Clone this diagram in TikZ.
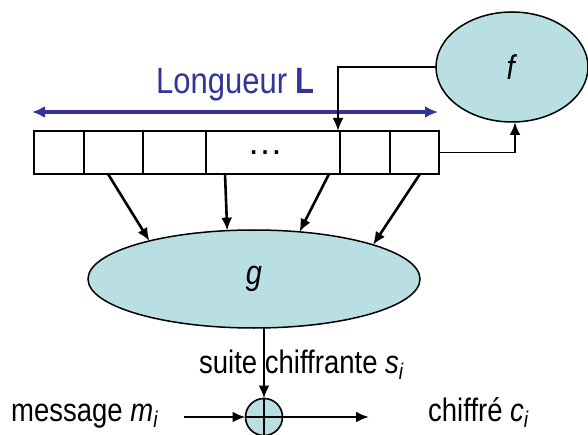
\documentclass[tikz,border=0pt]{standalone}
\usepackage{graphicx}
\usepackage{fontspec}
\setmainfont{Liberation Sans}
\usetikzlibrary{arrows.meta,shapes.geometric}
\definecolor{cyanfill}{HTML}{B9DFE2}
\definecolor{darkblue}{HTML}{333399}
\newcommand{\vstretch}[1]{\scalebox{1}[1.18]{#1}}
\tikzset{
  cell/.style={draw=black, line width=1.8pt, minimum height=43pt, inner sep=0pt, outer sep=0pt, anchor=west},
  blob/.style={ellipse, draw=black, line width=1.5pt, fill=cyanfill, inner sep=0pt, outer sep=0pt},
  arr/.style={line width=2.6pt, -{Latex[length=13pt,width=11pt]}},
  thin/.style={line width=1.8pt},
  lbl/.style={inner sep=0pt, font=\fontsize{27.5}{32}\selectfont}
}
\begin{document}
\begin{tikzpicture}[x=1pt,y=-1pt]
\useasboundingbox (0,0) rectangle (588,435);
% register
\node[cell, minimum width=50pt] (c1) at (34,152.5) {};
\node[cell, minimum width=59pt] (c2) at (c1.east) {};
\node[cell, minimum width=63pt] (c3) at (c2.east) {};
\node[cell, minimum width=134pt, font=\fontsize{36}{40}\selectfont] (c4) at (c3.east) {\hspace*{-16pt}\raisebox{-3pt}{…}};
\node[cell, minimum width=50pt] (c5) at (c4.east) {};
\node[cell, minimum width=49pt] (c6) at (c5.east) {};
% length arrow
\coordinate (la) at (32,112);
\coordinate (lb) at (438,112);
\draw[darkblue, line width=3.2pt, {Latex[length=13pt,width=12pt]}-{Latex[length=13pt,width=12pt]}] (la) -- (lb);
\node[lbl, anchor=base west, text=darkblue, font=\fontsize{31}{34}\selectfont] (len) at (156,94) {\vstretch{Longueur \textbf{L}}};
% f
\node[blob, minimum width=152pt, minimum height=110pt, font=\fontsize{29}{32}\selectfont] (f) at (512,67) {\vstretch{\textit{f}}};
% g
\node[blob, minimum width=332pt, minimum height=98pt, font=\fontsize{29}{34}\selectfont] (g) at (254,279) {\vstretch{\textit{g}}};
% feedback
\draw[thin] (f.west) -| (338,100);
\draw[arr] (338,100) -- (c5.north west -| 338,0);
\draw[thin] (c6.east) -| (515,138);
\draw[arr] (515,138) -- (f.south -| 515,0);
% register to g
\coordinate (s1) at (108,174);
\coordinate (s2) at (225,174);
\coordinate (s3) at (329,174);
\coordinate (s4) at (420,174);
\draw[arr] (s1) -- (g.160);
\draw[arr] (s2) -- (g.119);
\draw[arr] (s3) -- (g.46);
\draw[arr] (s4) -- (g.16);
% xor
\node[circle, draw=black, line width=1.6pt, fill=cyanfill, minimum size=37pt, inner sep=0pt, outer sep=0pt] (xo) at (264,417) {};
\draw[thin] (xo.north) -- (xo.south);
\draw[thin] (xo.west) -- (xo.east);
\draw[arr] (g.south -| xo.north) -- (xo.north);
\node[lbl, anchor=base west] (suite) at (199,373) {\vstretch{suite chiffrante \textit{s}\textsubscript{\textit{i}}}};
% message
\node[lbl, anchor=base west] (msg) at (11,421) {\vstretch{message \textit{m}\textsubscript{\textit{i}}}};
\coordinate (min) at (184,417);
\draw[arr] (min) -- (xo.west);
\coordinate (cout) at (369,417);
\draw[arr] (xo.east) -- (cout);
\node[lbl, anchor=base west] (chif) at (428,421) {\vstretch{chiffré \textit{c}\textsubscript{\textit{i}}}};
\end{tikzpicture}
\end{document}
